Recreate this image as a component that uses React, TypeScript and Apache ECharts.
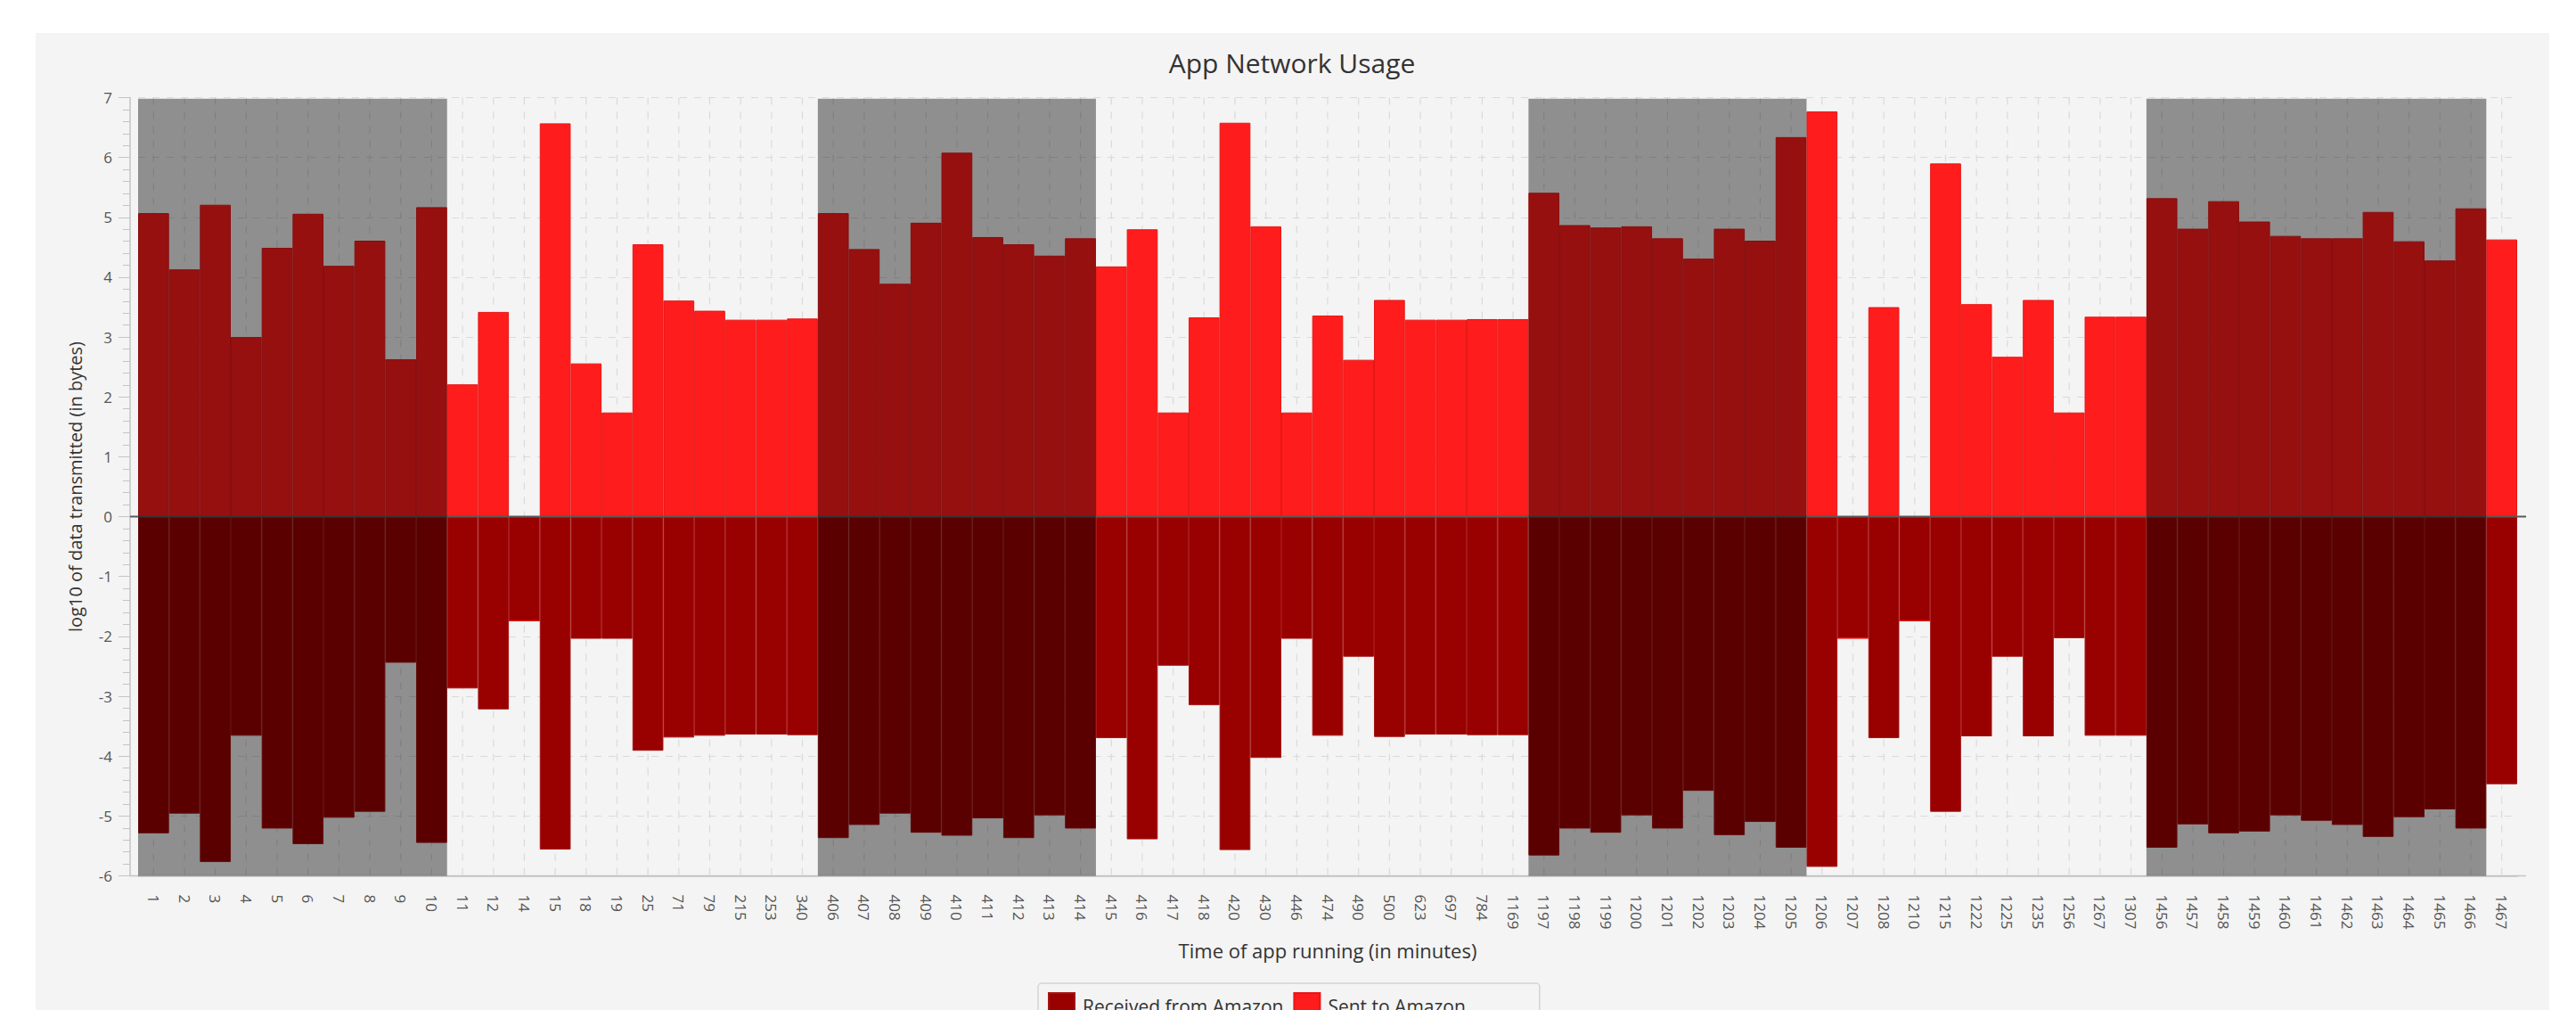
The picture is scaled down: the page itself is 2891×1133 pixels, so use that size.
import React, { useEffect, useRef } from "react";
import * as echarts from "echarts";

const categories = [
  "1", "2", "3", "4", "5", "6", "7", "8", "9", "10",
  "11", "12", "14", "15", "18", "19", "25", "71", "79", "215", "253", "340",
  "406", "407", "408", "409", "410", "411", "412", "413", "414",
  "415", "416", "417", "418", "420", "430", "446", "474", "490", "500", "623", "697", "784", "1169",
  "1197", "1198", "1199", "1200", "1201", "1202", "1203", "1204", "1205",
  "1206", "1207", "1208", "1210", "1215", "1222", "1225", "1235", "1256", "1267", "1307",
  "1456", "1457", "1458", "1459", "1460", "1461", "1462", "1463", "1464", "1465", "1466", "1467",
];

const sentToAmazon = [
  5.07, 4.13, 5.21, 3.0, 4.49, 5.06, 4.19, 4.61, 2.63, 5.17,
  2.21, 3.42, 0, 6.57, 2.56, 1.74, 4.55, 3.61, 3.44, 3.29, 3.29, 3.31,
  5.07, 4.47, 3.89, 4.91, 6.08, 4.67, 4.55, 4.36, 4.65,
  4.18, 4.8, 1.74, 3.33, 6.58, 4.85, 1.74, 3.36, 2.62, 3.62, 3.29, 3.29, 3.3, 3.3,
  5.41, 4.87, 4.83, 4.85, 4.65, 4.31, 4.81, 4.61, 6.34,
  6.77, 0, 3.5, 0, 5.9, 3.55, 2.67, 3.62, 1.74, 3.34, 3.34,
  5.32, 4.81, 5.27, 4.93, 4.69, 4.65, 4.65, 5.09, 4.6, 4.28, 5.15, 4.63,
];

const receivedFromAmazon = [
  -5.29, -4.96, -5.77, -3.66, -5.21, -5.47, -5.03, -4.93, -2.44, -5.45,
  -2.87, -3.22, -1.74, -5.56, -2.04, -2.04, -3.91, -3.69, -3.66, -3.64, -3.64, -3.65,
  -5.37, -5.15, -4.96, -5.28, -5.33, -5.04, -5.37, -4.99, -5.21,
  -3.7, -5.39, -2.49, -3.15, -5.57, -4.03, -2.04, -3.66, -2.34, -3.68, -3.64, -3.64, -3.65, -3.65,
  -5.66, -5.21, -5.28, -4.99, -5.21, -4.58, -5.32, -5.1, -5.53,
  -5.85, -2.03, -3.7, -1.74, -4.93, -3.67, -2.34, -3.67, -2.03, -3.66, -3.66,
  -5.53, -5.14, -5.29, -5.26, -4.99, -5.08, -5.15, -5.35, -5.02, -4.89, -5.21, -4.47,
];

// shaded periods (first and last category of each)
const shadedRanges = [
  ["1", "10"],
  ["406", "414"],
  ["1197", "1205"],
  ["1456", "1466"],
];

const yMin = -6;
const yMax = 7;
const shadeTop = 6.98;

const FONT = "'Open Sans', 'Noto Sans', sans-serif";

export default function App() {
  const ref = useRef<HTMLDivElement>(null);

  useEffect(() => {
    document.body.style.margin = "0";
    document.body.style.background = "#ffffff";
    if (!ref.current) return;
    const chart = echarts.init(ref.current, null, { renderer: "svg" });

    const bandData = shadedRanges.map(([a, b]) => [categories.indexOf(a), categories.indexOf(b)]);

    const option: any = {
      animation: false,
      backgroundColor: "#f4f4f4",
      graphic: [
        { type: "rect", shape: { x: 0, y: 0, width: 2891, height: 37 }, style: { fill: "#ffffff" }, silent: true },
        { type: "rect", shape: { x: 0, y: 0, width: 40, height: 1133 }, style: { fill: "#ffffff" }, silent: true },
        { type: "rect", shape: { x: 2861, y: 0, width: 30, height: 1133 }, style: { fill: "#ffffff" }, silent: true },
        {
          type: "text",
          x: 1450,
          y: 70,
          style: {
            text: "App Network Usage",
            textAlign: "center",
            textVerticalAlign: "middle",
            fontSize: 30,
            fontFamily: FONT,
            fill: "#333333",
          },
          silent: true,
        },
      ],
      grid: { left: 155, right: 66, top: 109.5, bottom: 150.5, containLabel: false },
      legend: {
        data: ["Received from Amazon", "Sent to Amazon"],
        left: 1165,
        top: 1103,
        orient: "horizontal",
        icon: "rect",
        itemWidth: 29,
        itemHeight: 29,
        itemGap: 11,
        padding: [10, 83, 10, 11],
        borderColor: "#d4d4d4",
        borderWidth: 1.5,
        borderRadius: 4,
        backgroundColor: "#f4f4f4",
        textStyle: { fontSize: 21, fontFamily: FONT, color: "#333333", padding: [0, 0, 0, 4] },
      },
      xAxis: {
        type: "category",
        data: categories,
        boundaryGap: true,
        name: "Time of app running (in minutes)",
        nameLocation: "middle",
        nameGap: 72,
        nameTextStyle: { fontSize: 22, fontFamily: FONT, color: "#333333" },
        axisLine: { onZero: false, lineStyle: { color: "#c4c4c4", width: 1.5 } },
        axisTick: { alignWithLabel: true, interval: 0, length: 15, lineStyle: { color: "#c4c4c4" } },
        axisLabel: {
          interval: 0,
          rotate: -90,
          margin: 21,
          fontSize: 17,
          fontFamily: FONT,
          color: "#555555",
        },
        splitLine: { show: false },
      },
      yAxis: {
        type: "value",
        min: yMin,
        max: yMax,
        interval: 1,
        offset: 9,
        name: "log10 of data transmitted (in bytes)",
        nameLocation: "middle",
        nameGap: 52,
        nameTextStyle: { fontSize: 20, fontFamily: FONT, color: "#333333" },
        axisLine: { show: true, lineStyle: { color: "#c4c4c4", width: 1.5 } },
        axisTick: { show: true, length: 13, lineStyle: { color: "#c4c4c4" } },
        minorTick: { show: true, splitNumber: 5, length: 8, lineStyle: { color: "#c4c4c4" } },
        axisLabel: { fontSize: 17, fontFamily: FONT, color: "#555555", margin: 20 },
        splitLine: { show: true, lineStyle: { color: "#dadada", type: [8, 8], width: 1.2 } },
      },
      series: [
        {
          name: "vgrid",
          type: "custom",
          silent: true,
          z: 1,
          data: categories.map((c) => [c, yMax]),
          renderItem: (params: any, api: any) => {
            const idx = api.value(0);
            const top = api.coord([idx, yMax]);
            const bot = api.coord([idx, yMin]);
            return {
              type: "line",
              shape: { x1: top[0], y1: top[1], x2: top[0], y2: bot[1] },
              style: { stroke: "#dadada", lineWidth: 1.2, lineDash: [8, 8] },
            };
          },
        },
        {
          name: "Received from Amazon",
          type: "bar",
          stack: "traffic",
          barCategoryGap: "0%",
          z: 2,
          data: receivedFromAmazon,
          itemStyle: { color: "#990000", borderColor: "#a51414", borderWidth: 1 },
        },
        {
          name: "Sent to Amazon",
          type: "bar",
          stack: "traffic",
          barCategoryGap: "0%",
          z: 2,
          data: sentToAmazon,
          itemStyle: { color: "#ff1c1c", borderColor: "#e81616", borderWidth: 1 },
        },
        {
          name: "axisLines",
          type: "custom",
          silent: true,
          z: 4,
          data: [[0, categories.length - 1]],
          renderItem: (params: any, api: any) => {
            const s = api.coord([api.value(0), 0]);
            const e = api.coord([api.value(1), 0]);
            const sb = api.coord([api.value(0), yMin]);
            const w = api.size([1, 0])[0];
            return {
              type: "group",
              children: [
                {
                  type: "line",
                  shape: { x1: s[0] - w / 2 - 9, y1: s[1], x2: e[0] + w / 2 + 10, y2: s[1] },
                  style: { stroke: "#5a5a5a", lineWidth: 2 },
                },
                {
                  type: "line",
                  shape: { x1: s[0] - w / 2 - 9, y1: sb[1], x2: e[0] + w / 2 + 10, y2: sb[1] },
                  style: { stroke: "#c4c4c4", lineWidth: 1.5 },
                },
              ],
            };
          },
        },
        {
          name: "shade",
          type: "custom",
          silent: true,
          z: 5,
          data: bandData,
          renderItem: (params: any, api: any) => {
            const s = api.coord([api.value(0), shadeTop]);
            const e = api.coord([api.value(1), yMin]);
            const w = api.size([1, 0])[0];
            return {
              type: "rect",
              shape: { x: s[0] - w / 2, y: s[1], width: e[0] - s[0] + w, height: e[1] - s[1] },
              style: { fill: "rgba(0,0,0,0.41)" },
            };
          },
        },
      ],
    };

    chart.setOption(option);
    return () => chart.dispose();
  }, []);

  return <div ref={ref} style={{ width: 2891, height: 1133 }} />;
}
